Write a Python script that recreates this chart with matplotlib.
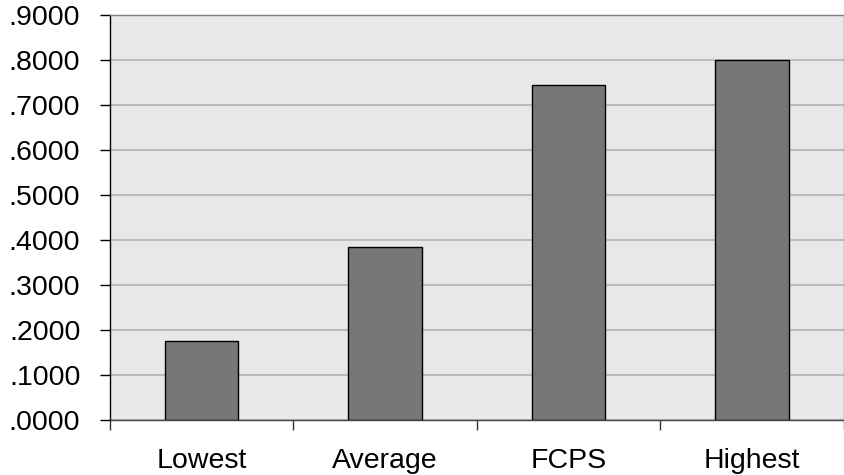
import matplotlib
matplotlib.use('Agg')
import matplotlib.pyplot as plt
from matplotlib.ticker import FuncFormatter, MultipleLocator
import numpy as np

categories = ['Lowest', 'Average', 'FCPS', 'Highest']
values = [0.176, 0.385, 0.744, 0.799]

plt.rcParams['font.family'] = ['Liberation Sans', 'DejaVu Sans']

fig = plt.figure(figsize=(8.45, 4.75), dpi=100)
ax = fig.add_axes([0.1296, 0.1158, 0.8692, 0.8526])

x = np.arange(len(categories))
ax.set_facecolor('#e8e8e8')
ax.bar(x, values, width=0.4, color='#777777', edgecolor='black', linewidth=1.0, zorder=3)

ax.set_xlim(-0.5, len(categories) - 0.5)
ax.set_ylim(0, 0.9)
ax.yaxis.set_major_locator(MultipleLocator(0.1))
ax.yaxis.set_major_formatter(FuncFormatter(lambda v, p: '{:.4f}'.format(v).lstrip('0')))
ax.grid(axis='y', color='#b4b4b4', linewidth=1.2, zorder=1)

# category labels sit between the boundary ticks
ax.set_xticks(x)
ax.set_xticklabels(categories)
ax.set_xticks(np.arange(len(categories) + 1) - 0.5, minor=True)
ax.tick_params(axis='x', which='major', length=0, pad=20.5, labelsize=20.5)
ax.tick_params(axis='x', which='minor', length=7, width=1, color='#333333')
ax.tick_params(axis='y', length=7, width=1, pad=14, labelsize=20.5)

ax.spines['left'].set_color('black')
ax.spines['bottom'].set_color('#444444')
ax.spines['top'].set_color('#808080')
ax.spines['right'].set_color('#808080')
for s in ax.spines.values():
    s.set_linewidth(1.0)
    s.set_zorder(4)

plt.savefig('out.png', dpi=100)
